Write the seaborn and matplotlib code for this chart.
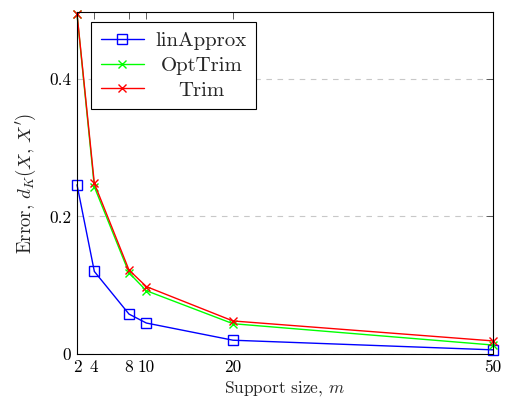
import matplotlib
matplotlib.use("Agg")
import matplotlib.pyplot as plt
import seaborn as sns
import pandas as pd

m_values = [2, 4, 8, 10, 20, 50]
lin_approx = [0.246, 0.120, 0.058, 0.045, 0.020, 0.006]
opt_trim = [0.494, 0.243, 0.118, 0.092, 0.044, 0.013]
trim = [0.495, 0.248, 0.122, 0.098, 0.048, 0.019]
series_names = ["linApprox", "OptTrim", "Trim"]
x_ticks = [2, 4, 8, 10, 20, 50]
y_ticks = [0, 0.2, 0.4]
y_tick_labels = ["0", "0.2", "0.4"]

sns.set_style("white")
plt.rcParams["font.family"] = ["cmr10", "DejaVu Serif"]
plt.rcParams["mathtext.fontset"] = "cm"
plt.rcParams["axes.formatter.use_mathtext"] = True

df = pd.DataFrame({
    "m": m_values * 3,
    "err": lin_approx + opt_trim + trim,
    "series": [series_names[0]] * 6 + [series_names[1]] * 6 + [series_names[2]] * 6,
})

fig = plt.figure(figsize=(5.05, 4.05), dpi=100)
ax = fig.add_axes([0.1525, 0.126, 0.8235, 0.844])

styles = {
    "linApprox": dict(color="#0000ff", marker="s", markersize=7.5, markerfacecolor="none", markeredgecolor="#0000ff", markeredgewidth=1.0),
    "OptTrim": dict(color="#00ff00", marker="x", markersize=6, markeredgecolor="#00ff00", markeredgewidth=1.0),
    "Trim": dict(color="#ff0000", marker="x", markersize=6, markeredgecolor="#ff0000", markeredgewidth=1.0),
}
for name in series_names:
    sub = df[df["series"] == name]
    sns.lineplot(data=sub, x="m", y="err", ax=ax, label=name, linewidth=1.0, clip_on=False, zorder=3, **styles[name])

ax.set_xlim(2, 50)
ax.set_ylim(0, 0.497)
ax.set_xticks(x_ticks)
ax.set_xticklabels([str(t) for t in x_ticks])
ax.set_yticks(y_ticks)
ax.set_yticklabels(y_tick_labels)
ax.tick_params(direction="in", top=True, right=True, length=5, width=0.6, labelsize=12.5, colors="#444444", labelcolor="black", pad=4)
for s in ax.spines.values():
    s.set_color("black")
    s.set_linewidth(0.8)
    s.set_zorder(4)
ax.yaxis.grid(True, linestyle=(0, (5, 5)), color="#c8c8c8", linewidth=0.8)
ax.xaxis.grid(False)
ax.set_axisbelow(True)

ax.set_xlabel("Support size, $m$", fontsize=12.5, labelpad=3)
ax.set_ylabel(r"Error, $d_K(X,\,X')$", fontsize=13.5, labelpad=8)

leg = ax.legend(loc="upper left", bbox_to_anchor=(0.034, 0.971), frameon=True, fancybox=False,
                edgecolor="black", fontsize=15, handlelength=2.1, borderpad=0.45, labelspacing=0.3,
                handletextpad=0.55, borderaxespad=0.0, framealpha=1.0)
leg.get_frame().set_linewidth(0.8)
leg.set_zorder(5)

# center legend texts within their column
renderer = fig.canvas.get_renderer()
texts = leg.get_texts()
widths = [t.get_window_extent(renderer).width for t in texts]
wmax = max(widths)
for t, w in zip(texts, widths):
    t.set_position(((wmax - w) / 2.0, 0))

fig.savefig("out.png", dpi=100)
